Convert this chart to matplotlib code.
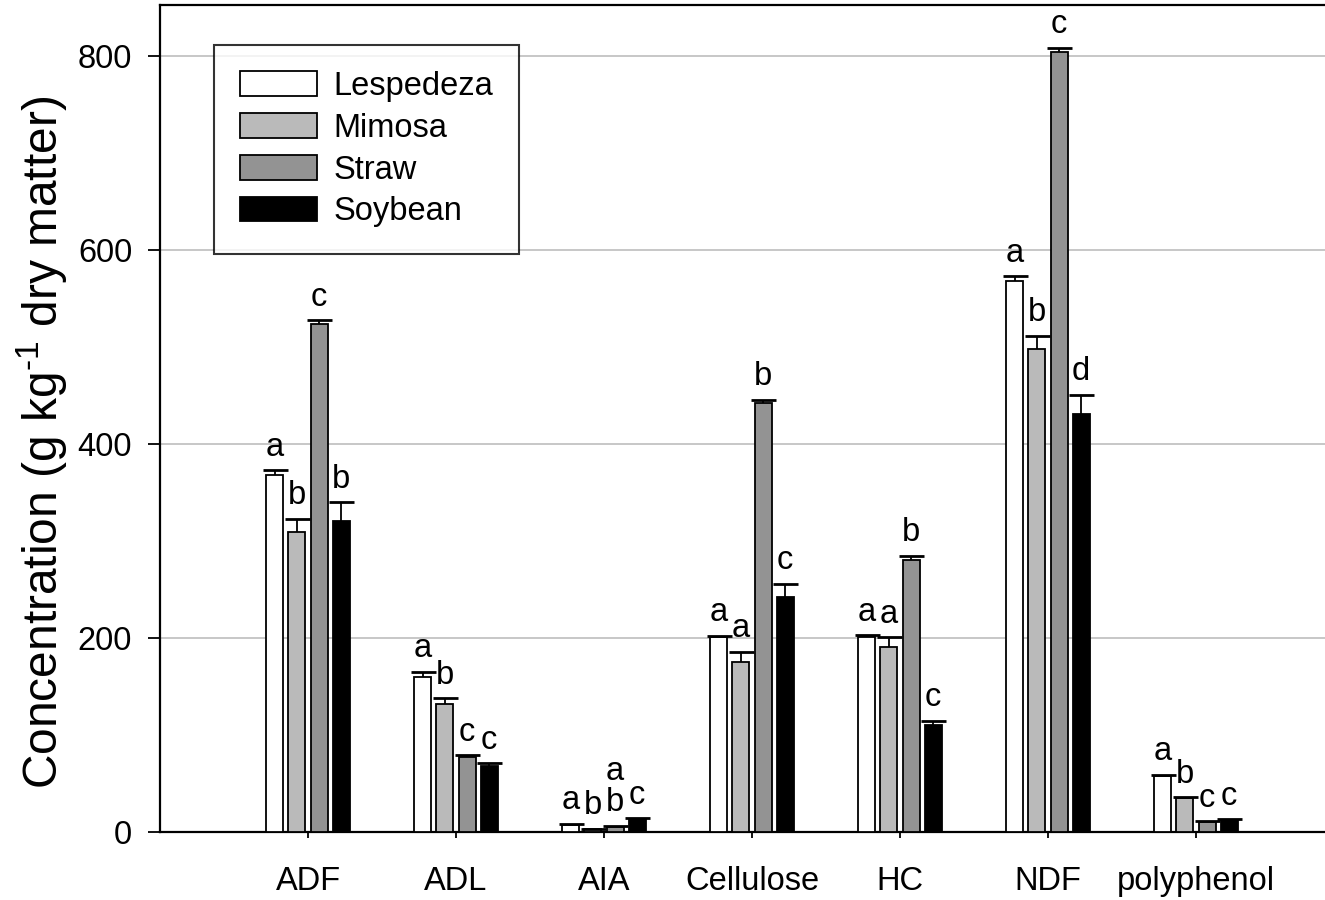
import matplotlib
matplotlib.use("Agg")
import matplotlib.pyplot as plt
import numpy as np

plt.rcParams['font.family'] = ['Liberation Sans', 'DejaVu Sans']
plt.rcParams['mathtext.fontset'] = 'custom'
plt.rcParams['mathtext.rm'] = 'Liberation Sans'

categories = ['ADF', 'ADL', 'AIA', 'Cellulose', 'HC', 'NDF', 'polyphenol']
series_names = ['Lespedeza', 'Mimosa', 'Straw', 'Soybean']

lespedeza = [368, 160, 7, 201, 201, 568, 58]
lespedeza_err = [5, 5, 1.5, 1.5, 2, 5, 1]
mimosa = [309, 132, 3, 175, 191, 498, 35]
mimosa_err = [14, 6, 0.5, 11, 10, 14, 1]
straw = [524, 77, 5, 443, 281, 805, 10]
straw_err = [4, 2, 1.5, 3, 4, 4, 1]
soybean = [321, 68, 13, 242, 110, 431, 12]
soybean_err = [19, 3, 1, 14, 5, 20, 1]

lespedeza_letters = ['a', 'a', 'a', 'a', 'a', 'a', 'a']
mimosa_letters = ['b', 'b', 'b', 'a', 'a', 'b', 'b']
straw_letters = ['c', 'c', 'a\nb', 'b', 'b', 'c', 'c']
soybean_letters = ['b', 'c', 'c', 'c', 'c', 'd', 'c']

yticks = [0, 200, 400, 600, 800]

values = [lespedeza, mimosa, straw, soybean]
errors = [lespedeza_err, mimosa_err, straw_err, soybean_err]
letters = [lespedeza_letters, mimosa_letters, straw_letters, soybean_letters]
colors = ['#ffffff', '#bababa', '#939393', '#000000']

W, H = 1325, 900
fig = plt.figure(figsize=(W / 100, H / 100), dpi=100)
ax = fig.add_axes([160 / W, 68 / H, 1184 / W, 827 / H])

FS = 23.5
x = np.arange(len(categories))
step = 0.149
width = 0.115
for i, (vals, errs, col, name, lets) in enumerate(zip(values, errors, colors, series_names, letters)):
    xs = x + (i - 1.5) * step
    ax.bar(xs, vals, width=width, color=col, edgecolor='black', linewidth=1.3,
           label=name, zorder=3)
    eb = ax.errorbar(xs, vals, yerr=[np.zeros(len(errs)), errs], fmt='none', ecolor='black',
                     elinewidth=1.3, capsize=9, capthick=2.0, zorder=4)
    caps = eb[1]
    if len(caps) == 2:
        caps[0].set_visible(False)
    for xi, v, e, t in zip(xs, vals, errs, lets):
        ax.annotate(t, (xi, v + e), xytext=(0, 10.5), textcoords='offset points',
                    ha='center', va='baseline', fontsize=FS, linespacing=1.0, zorder=5)

ax.set_xlim(-1, 7)
ax.set_ylim(0, 853)
ax.set_xticks(x)
ax.set_xticklabels(categories, fontsize=FS)
ax.set_yticks(yticks)
ax.set_yticklabels([str(t) for t in yticks], fontsize=FS)
ax.tick_params(axis='y', direction='out', length=9, width=1.3, pad=11)
ax.tick_params(axis='x', direction='out', length=4.5, width=1.3, pad=20)
ax.yaxis.grid(True, color='#bdbdbd', linewidth=1.2, zorder=0)
ax.set_axisbelow(True)
for s in ax.spines.values():
    s.set_linewidth(1.6)
    s.set_color('black')

fig.text(42 / W, 1 - 442 / H, r'Concentration (g kg$^{\mathrm{\text{-}1}}$ dry matter)',
         rotation=90, ha='center', va='center', fontsize=34.5)

leg = ax.legend(loc='upper left', bbox_to_anchor=(214 / W, 1 - 45 / H),
                bbox_transform=fig.transFigure, borderaxespad=0, fontsize=FS,
                handlelength=2.35, handleheight=0.78, handletextpad=0.5,
                labelspacing=0.33, borderpad=0.8, fancybox=False, frameon=True)
leg.get_frame().set_edgecolor('black')
leg.get_frame().set_linewidth(1.5)

fig.savefig('out.png', dpi=100)
